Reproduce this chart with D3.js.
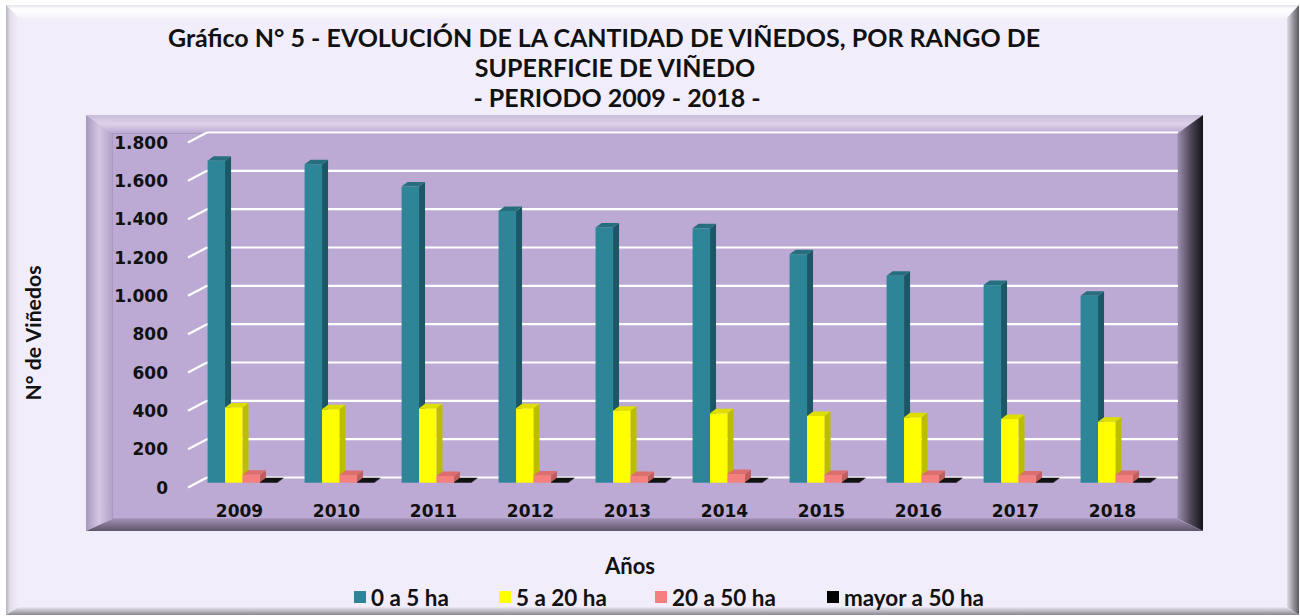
<!DOCTYPE html>
<html>
<head>
<meta charset="utf-8">
<script src="https://cdn.jsdelivr.net/npm/d3@7"></script>
<style>
  html, body { margin: 0; padding: 0; background: #fff; }
  svg { display: block; }
</style>
</head>
<body>
<svg id="chart" width="1300" height="616"></svg>
<script>
// data
const years = ["2009", "2010", "2011", "2012", "2013", "2014", "2015", "2016", "2017", "2018"];
const seriesNames = ["0 a 5 ha", "5 a 20 ha", "20 a 50 ha", "mayor a 50 ha"];
const hasta5 = [1680, 1662, 1545, 1418, 1332, 1327, 1192, 1080, 1031, 975];
const de5a20 = [393, 383, 388, 388, 376, 362, 348, 341, 332, 318];
const de20a50 = [42, 40, 35, 38, 35, 45, 40, 40, 38, 40];
const mayor50 = [3, 3, 3, 3, 3, 3, 3, 3, 3, 3];
const yTicks = [0, 200, 400, 600, 800, 1000, 1200, 1400, 1600, 1800];
const titleLines = [
  "Gráfico N° 5 - EVOLUCIÓN DE LA CANTIDAD DE VIÑEDOS, POR RANGO DE",
  "SUPERFICIE DE VIÑEDO",
  "- PERIODO 2009 - 2018 -"
];

const seriesValues = [hasta5, de5a20, de20a50, mayor50];
const palette = [
  { front: "#2e8597", side: "#1d5765", top: "#276f7e" },
  { front: "#ffff00", side: "#bdbd00", top: "#dede00" },
  { front: "#f47f7f", side: "#c05e5e", top: "#dc6e6e" },
  { front: "#000000", side: "#000000", top: "#111111" }
];

const svg = d3.select("#chart");
const defs = svg.append("defs");

function gradient(id, x2, y2, stops) {
  const g = defs.append("linearGradient").attr("id", id)
    .attr("x1", 0).attr("y1", 0).attr("x2", x2).attr("y2", y2);
  stops.forEach(([o, c]) => g.append("stop").attr("offset", o).attr("stop-color", c));
}

// fit a text element to a width by changing its font size
function fit(sel, width) {
  const fs = parseFloat(sel.attr("font-size"));
  const w = sel.node().getComputedTextLength();
  sel.attr("font-size", (fs * width / w).toFixed(2));
  return sel;
}

// ---- outer frame with bevel
const fo = { x0: 6, y0: 5, x1: 1299, y1: 615 };
const fi = { x0: 19, y0: 18, x1: 1287, y1: 607 };
gradient("oLeft", 1, 0, [[0, "#b5b0bc"], [0.3, "#e2dde8"], [1, "#f3eefa"]]);
gradient("oTop", 0, 1, [[0, "#e4e1e8"], [0.3, "#ffffff"], [1, "#f6f2fc"]]);
gradient("oRight", 1, 0, [[0, "#e0dbe6"], [0.6, "#8e8a94"], [1, "#5c5960"]]);
gradient("oBottom", 0, 1, [[0, "#ece7f2"], [1, "#8a8690"]]);

svg.append("rect").attr("x", fo.x0).attr("y", fo.y0)
  .attr("width", fo.x1 - fo.x0).attr("height", fo.y1 - fo.y0).attr("fill", "#f2edfa");

function bevel(o, i, ids) {
  const poly = [
    [[o.x0, o.y0], [o.x1, o.y0], [i.x1, i.y0], [i.x0, i.y0]],
    [[o.x0, o.y0], [i.x0, i.y0], [i.x0, i.y1], [o.x0, o.y1]],
    [[o.x1, o.y0], [o.x1, o.y1], [i.x1, i.y1], [i.x1, i.y0]],
    [[o.x0, o.y1], [o.x1, o.y1], [i.x1, i.y1], [i.x0, i.y1]]
  ];
  poly.forEach((p, k) => svg.append("polygon")
    .attr("points", p.map(d => d.join(",")).join(" "))
    .attr("fill", `url(#${ids[k]})`));
}
bevel(fo, fi, ["oTop", "oLeft", "oRight", "oBottom"]);

// ---- plot area with bevel
const po = { x0: 86, y0: 115, x1: 1203, y1: 531 };
const pi = { x0: 112, y0: 133, x1: 1178, y1: 519 };
gradient("pLeft", 1, 0, [[0, "#a796bd"], [0.5, "#d3c7e2"], [1, "#b3a1c9"]]);
gradient("pTop", 0, 1, [[0, "#c8bcd8"], [0.5, "#ddd2ea"], [1, "#bba9d2"]]);
gradient("pRight", 1, 0, [[0, "#9a8cae"], [0.5, "#4f4858"], [1, "#151316"]]);
gradient("pBottom", 0, 1, [[0, "#9f90b3"], [1, "#5d5468"]]);

svg.append("rect").attr("x", pi.x0).attr("y", pi.y0)
  .attr("width", pi.x1 - pi.x0).attr("height", pi.y1 - pi.y0)
  .attr("fill", "#bcaad4").attr("stroke", "#a594bb").attr("stroke-width", 1.5);
bevel(po, pi, ["pTop", "pLeft", "pRight", "pBottom"]);

// ---- scales
const x = d3.scaleBand(years, [194, 1164]).paddingInner(0.28).paddingOuter(0.14);
const xSub = d3.scaleBand(seriesNames, [0, x.bandwidth()]);
const yBack = d3.scaleLinear([0, 1800], [477.5, 132.5]);
const yBar = d3.scaleLinear([0, 1800], [482.7, 137.7]);
const depthX = 6, depthY = 4.5;
const wallX0 = 207, wallX1 = 1178, floorX0 = 188;

const fmt = d3.formatLocale({ decimal: ",", thousands: ".", grouping: [3], currency: ["$", ""] }).format(",d");

// gridlines on back wall plus diagonal on the side wall
const grid = svg.append("g").attr("stroke", "#ffffff").attr("stroke-width", 2.2).attr("fill", "none");
yTicks.forEach(t => {
  grid.append("line").attr("x1", wallX0).attr("x2", wallX1)
    .attr("y1", yBack(t)).attr("y2", yBack(t));
  grid.append("line").attr("x1", floorX0).attr("x2", wallX0)
    .attr("y1", yBack(t) + 10).attr("y2", yBack(t));
});

// y tick labels
svg.append("g").selectAll("text").data(yTicks).join("text")
  .attr("x", 168).attr("y", t => yBack(t) + 10)
  .attr("text-anchor", "end").attr("dominant-baseline", "central")
  .attr("font-family", "DejaVu Sans").attr("font-weight", "bold")
  .attr("font-size", 17).attr("fill", "#111")
  .text(t => fmt(t));

// bars (front, side, top)
const bars = svg.append("g");
seriesValues.forEach((vals, s) => {
  const c = palette[s];
  vals.forEach((v, i) => {
    const x0 = x(years[i]) + xSub(seriesNames[s]);
    const w = xSub.bandwidth();
    const yt = yBar(v), yb = yBar(0);
    const g = bars.append("g");
    g.append("polygon")
      .attr("points", [[x0 + w, yt], [x0 + w + depthX, yt - depthY], [x0 + w + depthX, yb - depthY], [x0 + w, yb]].map(d => d.join(",")).join(" "))
      .attr("fill", c.side);
    g.append("polygon")
      .attr("points", [[x0, yt], [x0 + depthX, yt - depthY], [x0 + w + depthX, yt - depthY], [x0 + w, yt]].map(d => d.join(",")).join(" "))
      .attr("fill", c.top);
    g.append("rect").attr("x", x0).attr("y", yt)
      .attr("width", w).attr("height", yb - yt).attr("fill", c.front);
  });
});

// x labels
svg.append("g").selectAll("text").data(years).join("text")
  .attr("x", d => x(d) + x.bandwidth() / 2 - 3).attr("y", 511)
  .attr("text-anchor", "middle").attr("dominant-baseline", "central")
  .attr("font-family", "DejaVu Sans").attr("font-weight", "bold")
  .attr("font-size", 17).attr("fill", "#111")
  .text(d => d);

// title
const titleFont = "Lato";
const titleSpec = [[604, 37, 872], [615, 67, 294], [617, 97, 297]];
titleLines.forEach((line, k) => {
  const t = svg.append("text")
    .attr("x", titleSpec[k][0]).attr("y", titleSpec[k][1])
    .attr("text-anchor", "middle").attr("dominant-baseline", "central")
    .attr("font-family", titleFont).attr("font-weight", "bold")
    .attr("font-size", 20).attr("fill", "#111").text(line);
  if (k === 0) fit(t, titleSpec[k][2]);
});
const tFs = svg.selectAll("text").filter(function () { return this.textContent === titleLines[0]; }).attr("font-size");
svg.selectAll("text").filter(function () { return titleLines.slice(1).includes(this.textContent); }).attr("font-size", tFs);

// axis titles
const yTitle = svg.append("text")
  .attr("transform", "translate(33,333) rotate(-90)")
  .attr("text-anchor", "middle").attr("dominant-baseline", "central")
  .attr("font-family", titleFont).attr("font-weight", "bold")
  .attr("font-size", 18).attr("fill", "#111").text("N° de Viñedos");
fit(yTitle, 135);

const xTitle = svg.append("text")
  .attr("x", 630).attr("y", 565)
  .attr("text-anchor", "middle").attr("dominant-baseline", "central")
  .attr("font-family", titleFont).attr("font-weight", "bold")
  .attr("font-size", 19).attr("fill", "#111").text("Años");
fit(xTitle, 50);

// legend
const legendX = [354, 499, 655, 827];
const legend = svg.append("g");
const legendTexts = seriesNames.map((name, s) => {
  legend.append("rect").attr("x", legendX[s]).attr("y", 591)
    .attr("width", 12).attr("height", 12).attr("fill", palette[s].front);
  return legend.append("text").attr("x", legendX[s] + 17).attr("y", 597)
    .attr("dominant-baseline", "central")
    .attr("font-family", titleFont).attr("font-weight", "bold")
    .attr("font-size", 18).attr("fill", "#111").text(name);
});
fit(legendTexts[3], 140);
legendTexts.forEach(t => t.attr("font-size", legendTexts[3].attr("font-size")));
</script>
</body>
</html>
